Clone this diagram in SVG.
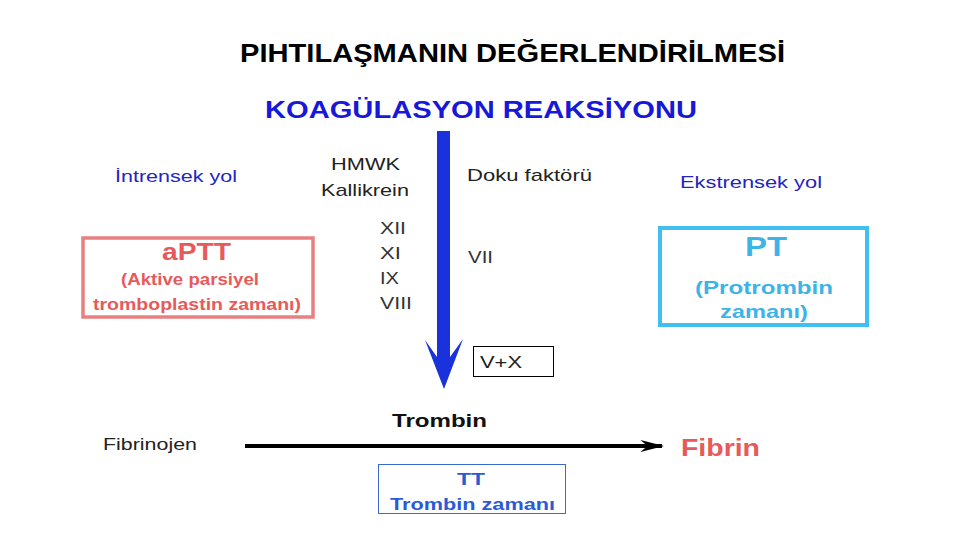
<svg xmlns="http://www.w3.org/2000/svg" width="960" height="540" viewBox="0 0 960 540">
<style>
text{font-family:"Liberation Sans",Arial,sans-serif;}
.b{font-weight:bold;}
.dk{fill:#222;}
.gr{fill:#333;}
.blu{fill:#2424c0;}
.red{fill:#e85a5a;}
.cyan{fill:#3cb4e8;}
.tt{fill:#2a5ad8;}
</style>
<defs>
<marker id="ah" viewBox="0 0 10 10" refX="9" refY="5" markerWidth="6" markerHeight="3" orient="auto" markerUnits="strokeWidth" preserveAspectRatio="none">
<path d="M0,0 L10,5 L0,10 L3,5 Z" fill="#000"/>
</marker>
</defs>
<rect width="960" height="540" fill="#fff"/>
<g id="titles">
<text x="240" y="62" font-size="25" class="b" fill="#000" textLength="545" lengthAdjust="spacingAndGlyphs">PIHTILAŞMANIN DEĞERLENDİRİLMESİ</text>
<text x="265" y="118" font-size="23" class="b" fill="#1818d8" textLength="432" lengthAdjust="spacingAndGlyphs">KOAGÜLASYON REAKSİYONU</text>
</g>
<g id="connectors">
<polygon points="437,131 450,131 450,357 463,339 444,389 425,340 437,357" fill="#1a32dc"/>
<line x1="245" y1="446" x2="662" y2="446" stroke="#000" stroke-width="4" marker-end="url(#ah)"/>
</g>
<g id="intrensek">
<text x="115" y="182" font-size="17" class="blu" textLength="122" lengthAdjust="spacingAndGlyphs">İntrensek yol</text>
</g>
<g id="factors-left">
<text x="331" y="170" font-size="17" class="dk" textLength="69" lengthAdjust="spacingAndGlyphs">HMWK</text>
<text x="321" y="196" font-size="17" class="dk" textLength="88" lengthAdjust="spacingAndGlyphs">Kallikrein</text>
<text x="380" y="234" font-size="17" class="gr" textLength="26" lengthAdjust="spacingAndGlyphs">XII</text>
<text x="380" y="259" font-size="17" class="gr" textLength="21" lengthAdjust="spacingAndGlyphs">XI</text>
<text x="380" y="284" font-size="17" class="gr" textLength="19" lengthAdjust="spacingAndGlyphs">IX</text>
<text x="380" y="309" font-size="17" class="gr" textLength="32" lengthAdjust="spacingAndGlyphs">VIII</text>
</g>
<g id="factors-right">
<text x="467" y="181" font-size="17" class="dk" textLength="125" lengthAdjust="spacingAndGlyphs">Doku faktörü</text>
<text x="468" y="263" font-size="17" class="gr" textLength="25" lengthAdjust="spacingAndGlyphs">VII</text>
</g>
<g id="ekstrensek">
<text x="680" y="188" font-size="17" class="blu" textLength="142" lengthAdjust="spacingAndGlyphs">Ekstrensek yol</text>
</g>
<g id="aptt">
<rect x="83" y="238" width="230" height="79" fill="none" stroke="#e88080" stroke-width="3.5"/>
<text x="162" y="260" font-size="24" class="b red" textLength="69" lengthAdjust="spacingAndGlyphs">aPTT</text>
<text x="121" y="285" font-size="17" class="b red" textLength="138" lengthAdjust="spacingAndGlyphs">(Aktive parsiyel</text>
<text x="93" y="310" font-size="17" class="b red" textLength="208" lengthAdjust="spacingAndGlyphs">tromboplastin zamanı)</text>
</g>
<g id="pt">
<rect x="660" y="228" width="207" height="97" fill="none" stroke="#40c0f0" stroke-width="4"/>
<text x="745" y="256" font-size="27" class="b cyan" textLength="42" lengthAdjust="spacingAndGlyphs">PT</text>
<text x="695" y="294" font-size="19" class="b cyan" textLength="138" lengthAdjust="spacingAndGlyphs">(Protrombin</text>
<text x="720" y="318" font-size="19" class="b cyan" textLength="88" lengthAdjust="spacingAndGlyphs">zamanı)</text>
</g>
<g id="vx">
<rect x="473.5" y="346.5" width="80" height="30" fill="#fff" stroke="#000" stroke-width="1"/>
<text x="480" y="368" font-size="17" class="dk" textLength="42" lengthAdjust="spacingAndGlyphs">V+X</text>
</g>
<g id="trombin">
<text x="392" y="427" font-size="18" class="b" fill="#111" textLength="95" lengthAdjust="spacingAndGlyphs">Trombin</text>
</g>
<g id="fibrinojen">
<text x="103" y="450" font-size="17" class="dk" textLength="94" lengthAdjust="spacingAndGlyphs">Fibrinojen</text>
</g>
<g id="fibrin">
<text x="681" y="456" font-size="23" class="b red" textLength="79" lengthAdjust="spacingAndGlyphs">Fibrin</text>
</g>
<g id="tt">
<rect x="378.5" y="464.5" width="187" height="49" fill="none" stroke="#3a6ad0" stroke-width="1"/>
<text x="457" y="485" font-size="17" class="b tt" textLength="28" lengthAdjust="spacingAndGlyphs">TT</text>
<text x="390" y="510" font-size="17" class="b tt" textLength="165" lengthAdjust="spacingAndGlyphs">Trombin zamanı</text>
</g>
</svg>
